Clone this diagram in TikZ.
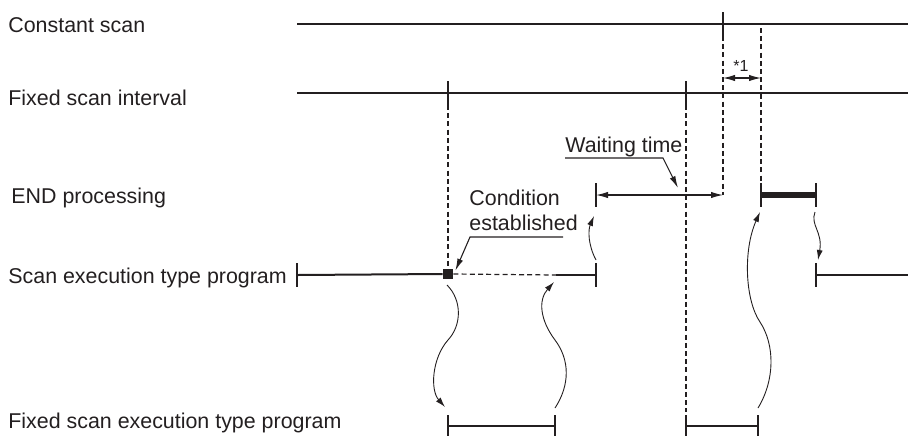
\documentclass[tikz,border=0pt]{standalone}
\usepackage{fontspec}
\setmainfont{Liberation Sans}
\usepackage{tikz}
\usetikzlibrary{arrows.meta,positioning}
\definecolor{ink}{HTML}{231F20}

\begin{document}
\begin{tikzpicture}[
    x=0.5pt, y=-0.5pt,
    ink,
    rowlabel/.style={anchor=base west, inner sep=0pt, font=\fontsize{10.7}{12.5}\selectfont},
    timeline/.style={line width=1pt},
    tickmark/.style={line width=1pt},
    guide/.style={line width=0.6pt, dash pattern=on 2.5pt off 1.6pt},
    leader/.style={line width=0.55pt, -{Latex[length=6pt,width=3pt]}},
    dimline/.style={line width=0.55pt, {Latex[length=6pt,width=3.2pt]}-{Latex[length=6pt,width=3.2pt]}},
    waveline/.style={line width=0.45pt, -{Latex[length=5pt,width=3pt]}}
]
\useasboundingbox (0,0) rectangle (909,435);

% row labels
\node[rowlabel] (lcs) at (8,32) {Constant scan};
\node[rowlabel] (lfi) at (8,105) {Fixed scan interval};
\node[rowlabel] (lend) at (11,203) {END processing};
\node[rowlabel] (lsp) at (8,283) {Scan execution type program};
\node[rowlabel] (lfp) at (8,428) {Fixed scan execution type program};

% time points
\coordinate (csL) at (297,24);  \coordinate (csR) at (908,24);
\coordinate (csT) at (723,24);
\coordinate (fiL) at (297,93);  \coordinate (fiR) at (908,93);
\coordinate (fiA) at (448,93);  \coordinate (fiB) at (686,93);
\coordinate (wtL) at (596,195); \coordinate (wtR) at (723,195);
\coordinate (endL) at (761,195); \coordinate (endR) at (816,195);
\coordinate (spL) at (297,275); \coordinate (spD) at (556,275);
\coordinate (spE) at (596,275); \coordinate (spF) at (816,275);
\coordinate (spR) at (908,275);
\coordinate (fpA) at (448,426); \coordinate (fpB) at (555,426);
\coordinate (fpC) at (686,426); \coordinate (fpD) at (758,426);
\node[fill, minimum size=5pt, inner sep=0pt] (cond) at (448,274) {};

% time lines
\draw[timeline] (csL) -- (csR);
\draw[timeline] (fiL) -- (fiR);
\draw[timeline] (spL) -- (cond.west);
\draw[timeline] (spD) -- (spE);
\draw[timeline] (spF) -- (spR);
\draw[timeline] (fpA) -- (fpB);
\draw[timeline] (fpC) -- (fpD);
\draw[line width=3pt] (endL) -- (endR);

% ticks
\foreach \p in {csT,fiA,fiB,wtL,endL,endR,spL,spE,spF}
  \draw[tickmark] (\p) ++(0,-12) -- ++(0,24);
\foreach \p in {fpA,fpB,fpC,fpD}
  \draw[tickmark] (\p) ++(0,-11) -- ++(0,22);

% dashed guides
\draw[guide] (csT) ++(0,12) -- (wtR);
\draw[guide] (761,28) -- ([yshift=6pt]endL);
\draw[guide] (fiB) ++(0,12) -- (686,412);
\draw[guide] (fiA) ++(0,12) -- (cond.north);
\draw[guide] (cond.east) -- (spD);

% waiting time
\draw[dimline] (wtL) -- (wtR);
\node[rowlabel] (wait) at (565,152) {Waiting time};
\coordinate (waitTip) at (678,188);
\draw[leader] (565,158) -- (663,158) -- (waitTip);

% *1
\node[anchor=base west, inner sep=0pt, font=\fontsize{8}{9}\selectfont] (star) at (733,71) {*1};
\draw[dimline] (723,78) -- (761,78);

% condition established
\node[rowlabel, anchor=north west, align=left] (condtext) at (469,190) {Condition\\established};
\draw[leader] (563,237) -- (470,237) -- ([shift={(1pt,-1pt)}]cond.north east);

% wavy transfers
\draw[waveline] (447,285) .. controls (462,300) and (462,325) .. (448,340)
  .. controls (432,358) and (430,390) .. (445,407);
\draw[waveline] (555,408) .. controls (570,385) and (570,360) .. (555,340)
  .. controls (540,320) and (538,300) .. (554,282);
\draw[waveline] (596,260) .. controls (588,245) and (588,230) .. (594,216);
\draw[waveline] (758,408) .. controls (775,380) and (775,345) .. (760,322)
  .. controls (745,300) and (743,250) .. (760,212);
\draw[waveline] (815,212) .. controls (810,225) and (823,232) .. (818,260);
\end{tikzpicture}
\end{document}
